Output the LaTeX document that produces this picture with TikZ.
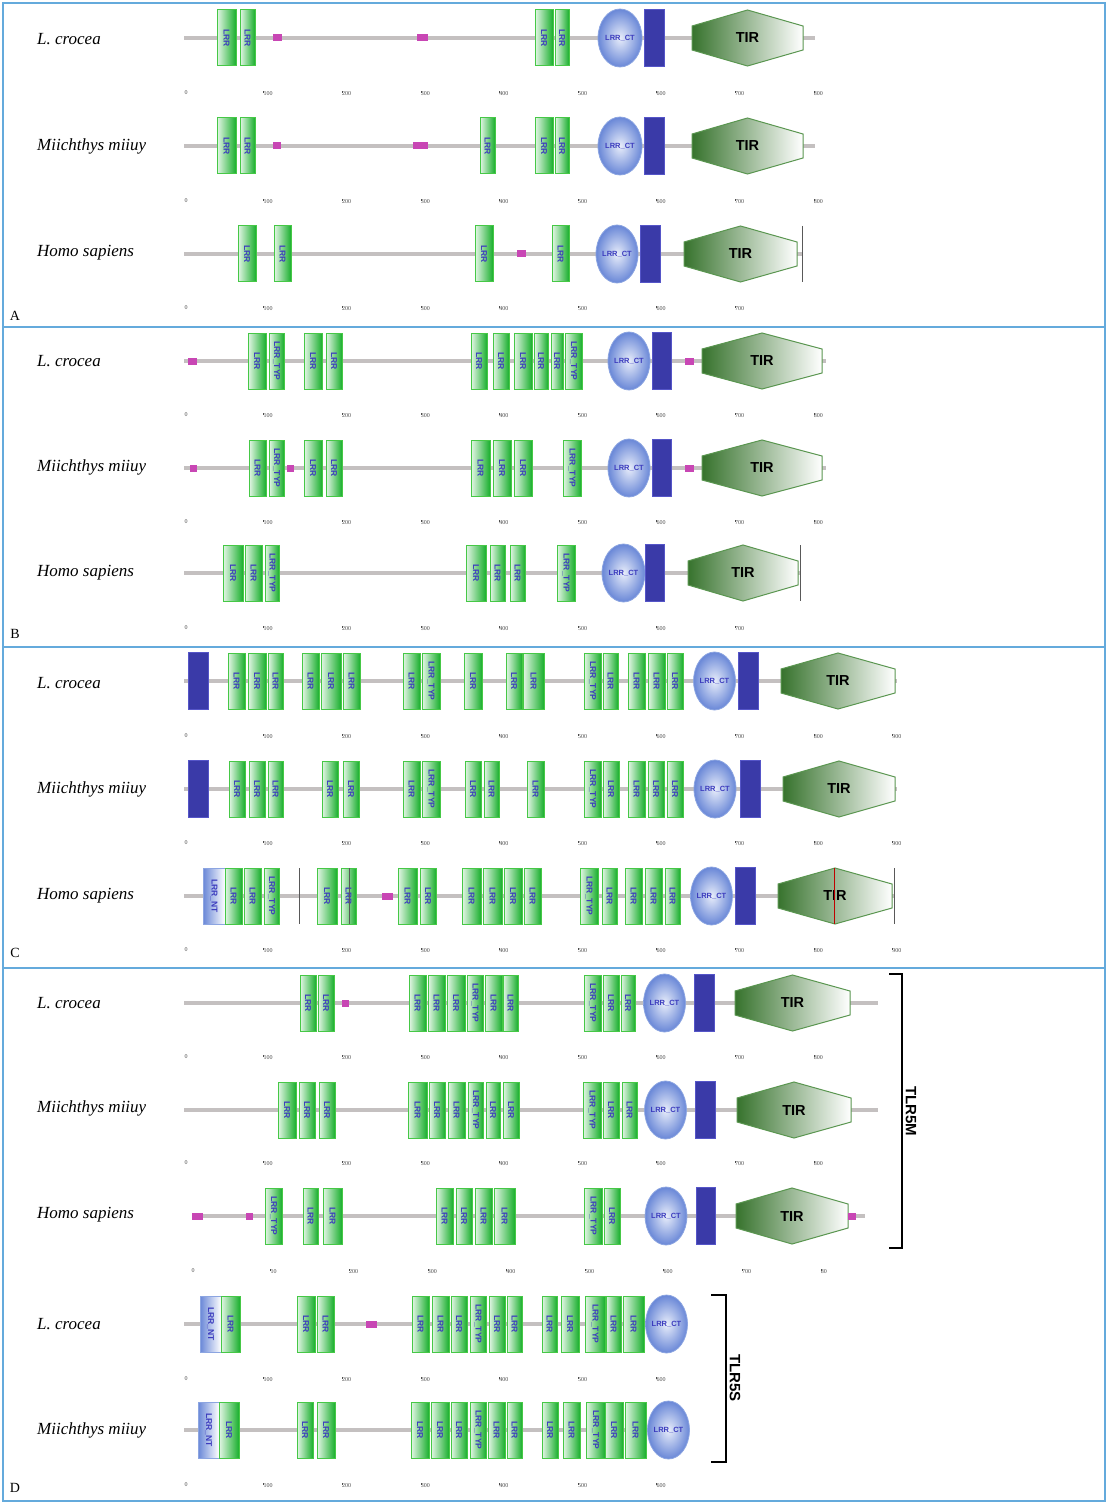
\documentclass[tikz,border=0pt]{standalone}
\usepackage{fontspec}
\setmainfont{Liberation Serif}
\setsansfont{Liberation Sans}
\usepackage{graphicx}
\usetikzlibrary{shapes.geometric}
\definecolor{panelC}{RGB}{100,170,220}
\definecolor{bbC}{RGB}{196,192,192}
\definecolor{lrrG}{RGB}{25,175,45}
\definecolor{lrrB}{RGB}{70,200,70}
\definecolor{lblue}{RGB}{60,60,190}
\definecolor{tmF}{RGB}{58,58,168}
\definecolor{tmB}{RGB}{85,85,200}
\definecolor{pkF}{RGB}{200,70,180}
\definecolor{ctO}{RGB}{105,135,215}
\definecolor{ctI}{RGB}{232,237,250}
\definecolor{ctB}{RGB}{140,165,225}
\definecolor{tirD}{RGB}{55,115,45}
\definecolor{tirB}{RGB}{90,150,80}
\tikzset{
 lrrbox/.style={rectangle, draw=lrrB, line width=1pt, left color=lrrG!12, right color=lrrG, minimum height=56pt, inner sep=0pt, text=lblue, font=\sffamily\bfseries\fontsize{8.5}{9}\selectfont},
 lntbox/.style={lrrbox, draw=ctB, left color=ctO, right color=white},
 ctnode/.style={ellipse, draw=ctB, line width=0.8pt, inner color=ctI, outer color=ctO, minimum height=58pt, inner sep=0pt, text=lblue, font=\sffamily\bfseries\fontsize{7.5}{8}\selectfont},
 tmnode/.style={rectangle, fill=tmF, draw=tmB, line width=0.8pt, minimum height=57pt, inner sep=0pt},
 pknode/.style={rectangle, fill=pkF, minimum height=7pt, inner sep=0pt},
 tirshape/.style={draw=tirB, line width=1pt, left color=tirD, right color=white},
 tirtext/.style={font=\sffamily\bfseries\fontsize{14.5}{16}\selectfont, text=black, inner sep=0pt},
 bbline/.style={draw=bbC, line width=4.8pt},
 scl/.style={font=\fontsize{6}{7}\selectfont, text=black!70, inner sep=0pt},
 sp/.style={font=\itshape\fontsize{17}{19}\selectfont, anchor=west, inner sep=0pt},
 panel/.style={draw=panelC, line width=1.5pt},
 plet/.style={font=\fontsize{14}{16}\selectfont, inner sep=0pt},
 brk/.style={draw=black, line width=2pt},
 brklab/.style={font=\sffamily\bfseries\fontsize{15}{16}\selectfont, rotate=-90, inner sep=0pt}
}
\newcounter{nd}
\newcommand\dnx{\stepcounter{nd}\edef\dnm{n\arabic{nd}}}
\newcommand\dY[1]{\def\ry{#1}}
\newcommand\dLR[3][LRR]{\dnx\node[lrrbox,minimum width=#3-#2] (\dnm) at ({(#2+#3)/2},\ry) {\rotatebox{-90}{#1}};}
\newcommand\dNT[2]{\dnx\node[lntbox,minimum width=#2-#1] (\dnm) at ({(#1+#2)/2},\ry) {\rotatebox{-90}{LRR\_NT}};}
\newcommand\dCT[2]{\dnx\node[ctnode,minimum width=#2-#1] (\dnm) at ({(#1+#2)/2},\ry) {LRR\_CT};}
\newcommand\dTM[2]{\dnx\node[tmnode,minimum width=#2-#1] (\dnm) at ({(#1+#2)/2},\ry) {};}
\newcommand\dPK[2]{\dnx\node[pknode,minimum width=#2-#1] (\dnm) at ({(#1+#2)/2},\ry) {};}
\newcommand\dTIR[2]{\dnx
 \path[tirshape] (#1,\ry-12) -- ({(#1+#2)/2},\ry-28) -- (#2,\ry-12) -- (#2,\ry+12) -- ({(#1+#2)/2},\ry+28) -- (#1,\ry+12) -- cycle;
 \node[tirtext] (\dnm) at ({(#1+#2)/2},\ry) {TIR};}
\newcommand\dBB[2]{\dnx\coordinate (\dnm a) at (#1,\ry); \coordinate (\dnm b) at (#2,\ry); \draw[bbline] (\dnm a) -- (\dnm b);}
\newcommand\dVL[2][black!65]{\draw[#1,line width=1pt] (#2,\ry-28) -- (#2,\ry+28);}
\newcommand\dSC[3]{\foreach \sclab [count=\k from 0] in {#3}{\dnx\ifnum\k=0 \node[scl] (\dnm) at (#1+1.5,#2) {\sclab};\else\node[scl,anchor=west] (\dnm) at ({#1+78.6*\k},#2) {\rule[2pt]{0.3pt}{2.5pt}\sclab};\fi}}
\begin{document}
\begin{tikzpicture}[x=1pt,y=-1pt]
\useasboundingbox (0,0) rectangle (1107,1503);
\fill[white] (0,0) rectangle (1107,1503);
\draw[panel] (3,3) rectangle (1105,327);
\draw[panel] (3,327) rectangle (1105,647);
\draw[panel] (3,647) rectangle (1105,968);
\draw[panel] (3,968) rectangle (1105,1501);
\node[plet] (pA) at (15,316) {A};
\node[plet] (pB) at (15,634) {B};
\node[plet] (pC) at (15,953) {C};
\node[plet] (pD) at (15,1488) {D};
% species
\node[sp] (s1) at (37,39) {L. crocea};
\node[sp] (s2) at (37,146) {Miichthys miiuy};
\node[sp] (s3) at (37,253) {Homo sapiens};
\node[sp] (s4) at (37,361) {L. crocea};
\node[sp] (s5) at (37,467) {Miichthys miiuy};
\node[sp] (s6) at (37,573) {Homo sapiens};
\node[sp] (s7) at (37,683) {L. crocea};
\node[sp] (s8) at (37,789) {Miichthys miiuy};
\node[sp] (s9) at (37,896) {Homo sapiens};
\node[sp] (s10) at (37,1003) {L. crocea};
\node[sp] (s11) at (37,1108) {Miichthys miiuy};
\node[sp] (s12) at (37,1215) {Homo sapiens};
\node[sp] (s13) at (37,1324) {L. crocea};
\node[sp] (s14) at (37,1430) {Miichthys miiuy};
% Panel A
\dY{38}\dBB{184}{815}
\dLR{217}{236}\dLR{240}{255}\dPK{273}{282}\dPK{417}{428}
\dLR{535}{553}\dLR{555}{569}\dCT{598}{642}\dTM{644}{664}\dTIR{692}{803}
\dSC{184.5}{93}{0,100,200,300,400,500,600,700,800}
\dY{146}\dBB{184}{815}
\dLR{217}{236}\dLR{240}{255}\dPK{273}{281}\dPK{413}{428}\dLR{480}{495}
\dLR{535}{553}\dLR{555}{569}\dCT{598}{642}\dTM{644}{664}\dTIR{692}{803}
\dSC{184.5}{201}{0,100,200,300,400,500,600,700,800}
\dY{254}\dBB{184}{802}
\dLR{238}{256}\dLR{274}{291}\dLR{475}{493}\dPK{517}{526}\dLR{552}{569}\dCT{596}{638}\dTM{640}{660}\dTIR{684}{797}\dVL{802}
\dSC{184.5}{308}{0,100,200,300,400,500,600,700}
% Panel B
\dY{361}\dBB{184}{826}
\dPK{188}{197}\dLR{248}{266}\dLR[LRR\_TYP]{269}{284}\dLR{304}{322}\dLR{326}{342}
\dLR{471}{487}\dLR{493}{509}\dLR{514}{532}\dLR{534}{548}\dLR{551}{563}\dLR[LRR\_TYP]{565}{582}
\dCT{608}{650}\dTM{652}{671}\dPK{685}{694}\dTIR{702}{822}
\dSC{184.5}{415}{0,100,200,300,400,500,600,700,800}
\dY{468}\dBB{184}{826}
\dPK{190}{197}\dLR{249}{266}\dLR[LRR\_TYP]{269}{284}\dPK{287}{294}\dLR{304}{322}\dLR{326}{342}
\dLR{471}{490}\dLR{493}{511}\dLR{514}{532}\dLR[LRR\_TYP]{563}{581}
\dCT{608}{650}\dTM{652}{671}\dPK{685}{694}\dTIR{702}{822}
\dSC{184.5}{522}{0,100,200,300,400,500,600,700,800}
\dY{573}\dBB{184}{800}
\dLR{223}{243}\dLR{245}{262}\dLR[LRR\_TYP]{265}{279}\dLR{466}{486}\dLR{490}{505}\dLR{510}{525}\dLR[LRR\_TYP]{557}{575}
\dCT{602}{645}\dTM{645}{664}\dTIR{688}{798}\dVL{800}
\dSC{184.5}{628}{0,100,200,300,400,500,600,700}
% Panel C
\dY{681}\dBB{184}{897}
\dTM{188}{208}\dLR{228}{245}\dLR{248}{266}\dLR{268}{283}\dLR{302}{319}\dLR{321}{341}\dLR{343}{360}
\dLR{403}{420}\dLR[LRR\_TYP]{422}{440}\dLR{464}{482}\dLR{506}{522}\dLR{523}{544}
\dLR[LRR\_TYP]{584}{601}\dLR{603}{618}\dLR{628}{645}\dLR{648}{665}\dLR{667}{683}
\dCT{694}{735}\dTM{738}{758}\dTIR{781}{895}
\dSC{184.5}{736}{0,100,200,300,400,500,600,700,800,900}
\dY{789}\dBB{184}{897}
\dTM{188}{208}\dLR{229}{245}\dLR{249}{265}\dLR{268}{283}\dLR{322}{338}\dLR{343}{359}
\dLR{403}{420}\dLR[LRR\_TYP]{422}{440}\dLR{465}{481}\dLR{484}{499}\dLR{527}{544}
\dLR[LRR\_TYP]{584}{601}\dLR{603}{619}\dLR{628}{645}\dLR{648}{664}\dLR{667}{683}
\dCT{694}{736}\dTM{740}{760}\dTIR{783}{895}
\dSC{184.5}{843}{0,100,200,300,400,500,600,700,800,900}
\dY{896}\dBB{184}{894}
\dNT{203}{225}\dLR{225}{242}\dLR{244}{261}\dLR[LRR\_TYP]{264}{279}\dVL{299}
\dLR{317}{337}\dLR{341}{356}\dVL{349}\dPK{382}{393}\dLR{398}{417}\dLR{420}{436}
\dLR{462}{481}\dLR{483}{502}\dLR{504}{522}\dLR{524}{541}
\dLR[LRR\_TYP]{580}{598}\dLR{602}{617}\dLR{625}{642}\dLR{645}{662}\dLR{665}{680}
\dCT{691}{732}\dTM{735}{755}\dTIR{778}{892}\dVL[red!75!black]{834}\dVL{894}
\dSC{184.5}{950}{0,100,200,300,400,500,600,700,800,900}
% Panel D
\dY{1003}\dBB{184}{878}
\dLR{300}{316}\dLR{318}{334}\dPK{342}{349}
\dLR{409}{426}\dLR{428}{445}\dLR{447}{465}\dLR[LRR\_TYP]{467}{483}\dLR{485}{502}\dLR{503}{518}
\dLR[LRR\_TYP]{584}{601}\dLR{603}{619}\dLR{621}{635}\dCT{644}{685}\dTM{694}{714}\dTIR{735}{850}
\dSC{184.5}{1057}{0,100,200,300,400,500,600,700,800}
\dY{1110}\dBB{184}{878}
\dLR{278}{296}\dLR{299}{315}\dLR{319}{335}
\dLR{408}{427}\dLR{429}{445}\dLR{448}{465}\dLR[LRR\_TYP]{468}{483}\dLR{486}{500}\dLR{503}{519}
\dLR[LRR\_TYP]{583}{601}\dLR{603}{619}\dLR{622}{637}\dCT{645}{686}\dTM{695}{715}\dTIR{737}{851}
\dSC{184.5}{1163}{0,100,200,300,400,500,600,700,800}
\dY{1216}\dBB{193}{865}
\dPK{192}{203}\dPK{246}{253}\dLR[LRR\_TYP]{265}{282}\dLR{303}{318}\dLR{323}{342}
\dLR{436}{453}\dLR{456}{472}\dLR{475}{492}\dLR{494}{515}
\dLR[LRR\_TYP]{584}{602}\dLR{604}{620}\dCT{646}{686}\dTM{696}{715}\dTIR{736}{848}\dPK{848}{856}
\dSC{191.5}{1271}{0,10,200,300,400,500,600,700,80}
\dY{1324}\dBB{184}{686}
\dNT{200}{221}\dLR{221}{240}\dLR{297}{315}\dLR{317}{334}\dPK{366}{377}
\dLR{412}{429}\dLR{432}{449}\dLR{451}{467}\dLR[LRR\_TYP]{470}{486}\dLR{489}{505}\dLR{507}{522}
\dLR{542}{557}\dLR{561}{579}\dLR[LRR\_TYP]{585}{605}\dLR{606}{621}\dLR{623}{644}\dCT{647}{686}
\dSC{184.5}{1379}{0,100,200,300,400,500,600}
\dY{1430}\dBB{184}{690}
\dNT{198}{219}\dLR{219}{239}\dLR{297}{313}\dLR{317}{335}
\dLR{411}{429}\dLR{431}{449}\dLR{451}{467}\dLR[LRR\_TYP]{470}{486}\dLR{488}{505}\dLR{507}{522}
\dLR{542}{558}\dLR{563}{580}\dLR[LRR\_TYP]{586}{605}\dLR{605}{623}\dLR{625}{646}\dCT{648}{689}
\dSC{184.5}{1485}{0,100,200,300,400,500,600}
% brackets
\coordinate (b1a) at (889,974); \coordinate (b1b) at (902,974);
\coordinate (b1c) at (902,1248); \coordinate (b1d) at (889,1248);
\draw[brk] (b1a) -- (b1b) -- (b1c) -- (b1d);
\node[brklab] (tlr5m) at (911,1111) {TLR5M};
\coordinate (b2a) at (711,1295); \coordinate (b2b) at (726,1295);
\coordinate (b2c) at (726,1462); \coordinate (b2d) at (711,1462);
\draw[brk] (b2a) -- (b2b) -- (b2c) -- (b2d);
\node[brklab] (tlr5s) at (735,1378) {TLR5S};
\end{tikzpicture}
\end{document}
